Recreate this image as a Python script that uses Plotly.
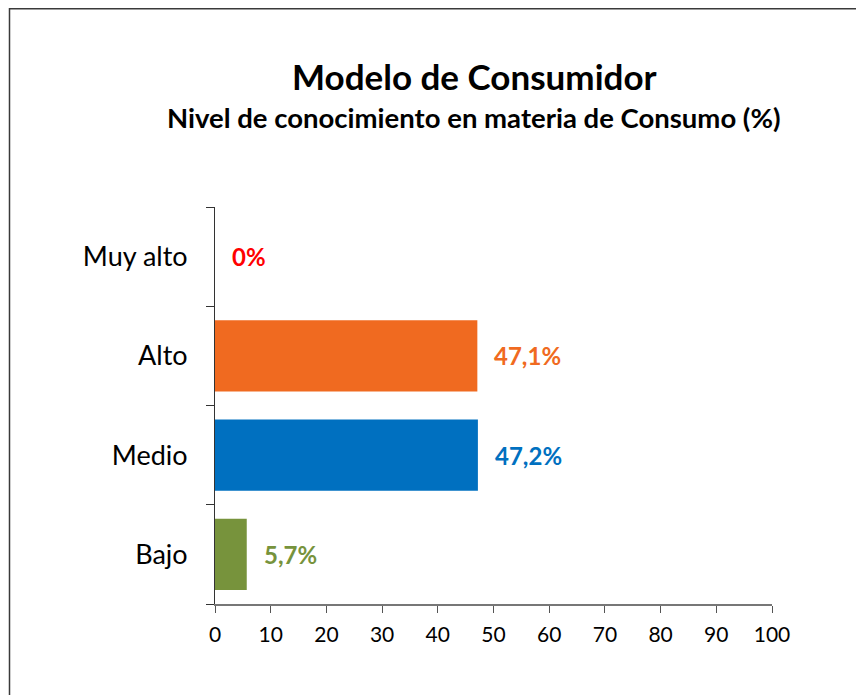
import plotly.graph_objects as go

categories = ["Bajo", "Medio", "Alto", "Muy alto"]
values = [5.7, 47.2, 47.1, 0]
labels = ["5,7%", "47,2%", "47,1%", "0%"]
bar_colors = ["#77933C", "#0070C0", "#F06A20", "#FF0000"]
label_colors = ["#77933C", "#0070C0", "#F06A20", "#FF0000"]
x_ticks = [0, 10, 20, 30, 40, 50, 60, 70, 80, 90, 100]

# page has an 8px body margin; figure geometry compensates
W, H = 856, 687
L, R, T, B = 207, 92, 199, 91
PW = W - L - R
PH = H - T - B


def px(x):
    return (x - L) / PW


def py(y):
    return (H - B - y) / PH


fig = go.Figure()
fig.add_trace(go.Bar(
    y=categories, x=values, orientation="h",
    marker=dict(color=bar_colors, line=dict(width=0)),
    hoverinfo="skip",
))

for c, v, t, col in zip(categories, values, labels, label_colors):
    fig.add_annotation(x=v, y=c, text="<b>%s</b>" % t, showarrow=False,
                       xanchor="left", xshift=15,
                       font=dict(family="Lato", size=24, color=col))

fig.add_annotation(xref="paper", yref="paper", x=px(466), y=py(68),
                   text="<b>Modelo de Consumidor</b>", showarrow=False,
                   xanchor="center", yanchor="middle",
                   font=dict(family="Lato", size=35, color="black"))
fig.add_annotation(xref="paper", yref="paper", x=px(466), y=py(109),
                   text="<b>Nivel de conocimiento en materia de Consumo (%)</b>", showarrow=False,
                   xanchor="center", yanchor="middle",
                   font=dict(family="Lato", size=27.5, color="black"))

fig.add_shape(type="rect", xref="paper", yref="paper",
              x0=px(1.5), x1=px(W + 20),
              y0=py(H + 20), y1=py(0.75),
              line=dict(color="#3a3a3a", width=1.5), fillcolor="rgba(0,0,0,0)")

fig.update_layout(
    width=W, height=H,
    margin=dict(l=L, r=R, t=T, b=B),
    paper_bgcolor="white", plot_bgcolor="white",
    showlegend=False, bargap=0.28,
    xaxis=dict(range=[0, 100], tickvals=x_ticks, ticks="outside", ticklen=7,
               tickcolor="#555", showline=True, linecolor="#777", linewidth=1.5,
               showgrid=False, zeroline=False, ticklabelstandoff=4,
               tickfont=dict(family="Lato", size=21, color="black")),
    yaxis=dict(categoryorder="array", categoryarray=categories,
               ticks="outside", ticklen=8, tickson="boundaries", tickcolor="#333",
               showline=True, linecolor="#333", linewidth=1, showgrid=False,
               ticklabelstandoff=21,
               tickfont=dict(family="Lato", size=27, color="black")),
)

fig.write_html("out.html")
